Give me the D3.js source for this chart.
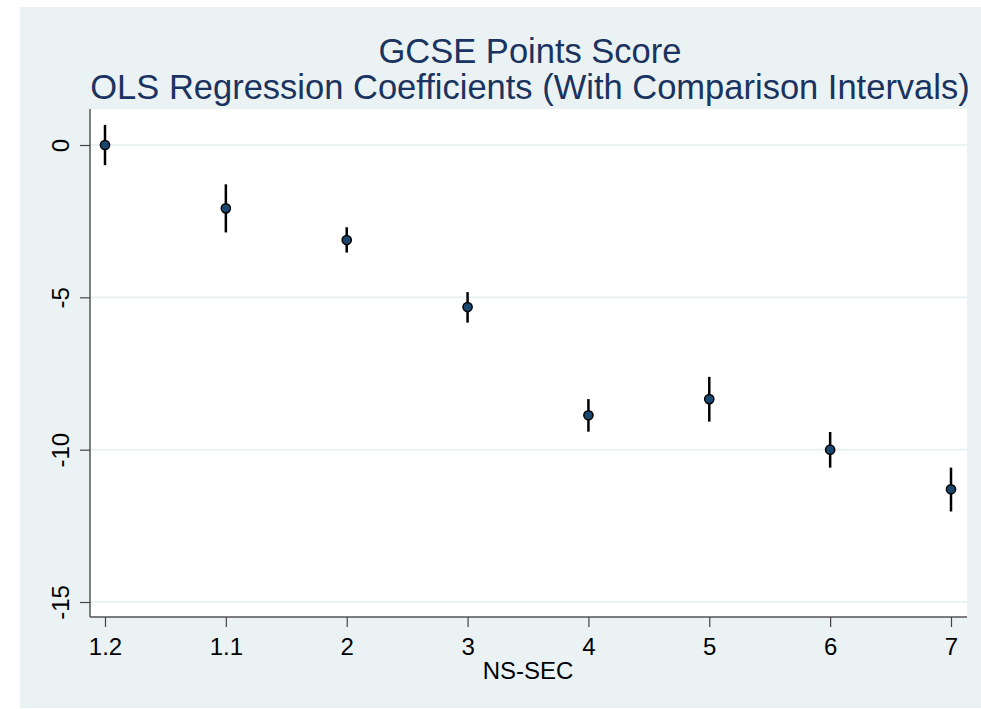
<!DOCTYPE html>
<html>
<head>
<meta charset="utf-8">
<script src="https://d3js.org/d3.v7.min.js"></script>
<style>
html,body{margin:0;padding:0;background:#fff;overflow:hidden;}
svg{display:block;font-family:"Liberation Sans",Arial,Helvetica,sans-serif;}
</style>
</head>
<body>
<div id="chart"></div>
<script>
const categories = ["1.2","1.1","2","3","4","5","6","7"];
const coef  = [0, -2.08, -3.12, -5.32, -8.87, -8.34, -10.00, -11.30];
const lower = [-0.66, -2.87, -3.53, -5.83, -9.41, -9.08, -10.59, -12.03];
const upper = [0.66, -1.29, -2.70, -4.83, -8.34, -7.61, -9.42, -10.59];
const yTicks = [0, -5, -10, -15];
const titleLines = ["GCSE Points Score", "OLS Regression Coefficients (With Comparison Intervals)"];
const xTitle = "NS-SEC";

const W = 981, H = 709;
const svg = d3.select("#chart").append("svg").attr("width", W).attr("height", H);

// graph region
svg.append("rect").attr("x", 20).attr("y", 7).attr("width", W - 20).attr("height", 701).attr("fill", "#EAF2F3");

const plot = {left: 90, right: 967, top: 109, bottom: 617};
svg.append("rect").attr("x", plot.left).attr("y", plot.top)
  .attr("width", plot.right - plot.left).attr("height", plot.bottom - plot.top).attr("fill", "#fff");

const x = d3.scalePoint().domain(categories).range([105, 951]);
const y = d3.scaleLinear().domain([-15, 0]).range([602, 145]);

// gridlines
svg.append("g").selectAll("line").data(yTicks).join("line")
  .attr("x1", plot.left).attr("x2", plot.right)
  .attr("y1", d => y(d)).attr("y2", d => y(d))
  .attr("stroke", "#EAF2F3").attr("stroke-width", 2);

// y axis
const yAxis = svg.append("g").attr("transform", `translate(${plot.left},0)`)
  .call(d3.axisLeft(y).tickValues(yTicks).tickSize(10).tickPadding(0).tickFormat(d3.format("d")));
yAxis.select(".domain").attr("d", `M0,${plot.top}V${plot.bottom}`).attr("stroke", "#555").attr("stroke-width", 1.5);
yAxis.selectAll(".tick line").attr("stroke", "#444").attr("stroke-width", 1.2);
yAxis.selectAll(".tick text")
  .attr("x", null).attr("dy", null)
  .attr("transform", "translate(-21,0) rotate(-90)")
  .attr("text-anchor", "middle").attr("font-size", 24).attr("fill", "#000")
  .text(d => d === 0 ? "0" : "-" + Math.abs(d));

// x axis
const xAxis = svg.append("g").attr("transform", `translate(0,${plot.bottom})`)
  .call(d3.axisBottom(x).tickSize(10).tickPadding(0));
xAxis.select(".domain").attr("d", `M${plot.left},0H${plot.right}`).attr("stroke", "#555").attr("stroke-width", 1.5);
xAxis.selectAll(".tick line").attr("stroke", "#444").attr("stroke-width", 1.2);
xAxis.selectAll(".tick text").attr("y", 38).attr("dy", null)
  .attr("font-size", 24).attr("fill", "#000");

// x title
svg.append("text").attr("x", 528).attr("y", 679).attr("text-anchor", "middle")
  .attr("font-size", 24).attr("fill", "#000").text(xTitle);

// title
svg.append("g").selectAll("text").data(titleLines).join("text")
  .attr("x", 530).attr("y", (d, i) => 63 + i * 36)
  .attr("text-anchor", "middle").attr("font-size", 34.5).attr("fill", "#1a3360")
  .text(d => d);

// spikes
const data = categories.map((c, i) => ({c, b: coef[i], lo: lower[i], hi: upper[i]}));
svg.append("g").selectAll("line").data(data).join("line")
  .attr("x1", d => x(d.c)).attr("x2", d => x(d.c))
  .attr("y1", d => y(d.hi)).attr("y2", d => y(d.lo))
  .attr("stroke", "#000").attr("stroke-width", 2.5);

// markers
svg.append("g").selectAll("circle").data(data).join("circle")
  .attr("cx", d => x(d.c)).attr("cy", d => y(d.b)).attr("r", 4.6)
  .attr("fill", "#1A476F").attr("stroke", "#000").attr("stroke-width", 1.5);
</script>
</body>
</html>
